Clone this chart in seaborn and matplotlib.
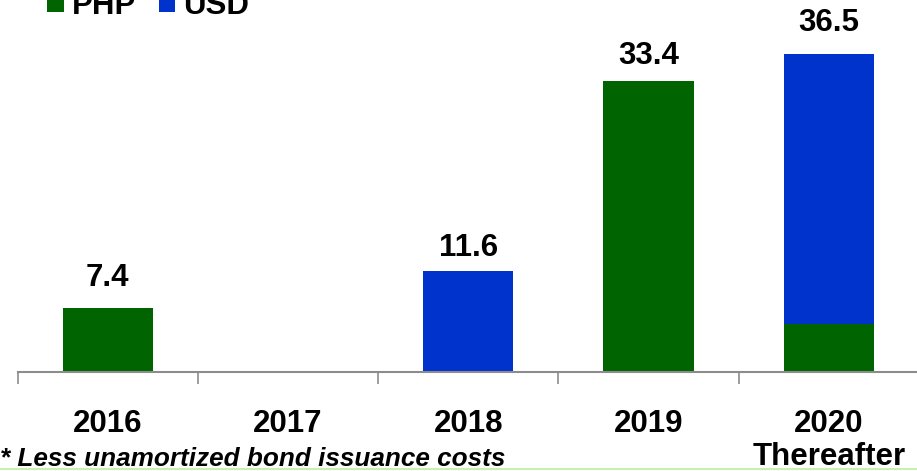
import matplotlib
matplotlib.use("Agg")
import matplotlib.pyplot as plt
from matplotlib.patches import Patch
from matplotlib.lines import Line2D
import numpy as np
import seaborn as sns

# Debt maturity profile (billions), split by currency
categories = ["2016", "2017", "2018", "2019", "2020\nThereafter"]
php = [7.4, 0.0, 0.0, 33.4, 5.5]
usd = [0.0, 0.0, 11.6, 0.0, 31.0]
series_names = ["PHP", "USD"]
footnote = "* Less unamortized bond issuance costs"

GREEN = "#006400"
BLUE = "#0033CC"
AXIS_GRAY = "#8c8c8c"
# gap (pixels) between each bar top and its total label
LABEL_GAP_PX = [22, 0, 15, 17, 23]

sns.set_style("white")
plt.rcParams["font.family"] = ["Liberation Sans", "DejaVu Sans"]
plt.rcParams["text.color"] = "black"
plt.rcParams["xtick.color"] = "black"

totals = [p + u for p, u in zip(php, usd)]

fig = plt.figure(figsize=(9.17, 4.71), dpi=100)
ax = fig.add_axes([17.5 / 917, 99 / 471, 901.5 / 917, 348.4 / 471])

# Stacked bars: full total in USD colour, PHP share painted over the base
sns.barplot(x=categories, y=totals, color=BLUE, saturation=1, width=0.5,
            linewidth=0, ax=ax)
sns.barplot(x=categories, y=php, color=GREEN, saturation=1, width=0.5,
            linewidth=0, ax=ax)

ax.set_xlim(-0.5, len(categories) - 0.5)
ax.set_ylim(0, 40)

# Total labels above each non-empty bar
for i, t in enumerate(totals):
    if t > 0:
        ax.annotate(f"{t:.1f}", xy=(i, t), xytext=(0, LABEL_GAP_PX[i] * 0.72),
                    textcoords="offset points", ha="center", va="baseline",
                    fontsize=22.5, fontweight="bold", color="black")

# Axis styling
for side in ["top", "right", "left"]:
    ax.spines[side].set_visible(False)
ax.spines["bottom"].set_color(AXIS_GRAY)
ax.spines["bottom"].set_linewidth(1.5)
ax.set_yticks([])
ax.set_xticks(range(len(categories)))
ax.set_xticklabels(categories, fontsize=22.5, fontweight="bold",
                   linespacing=1.12, color="black")
ax.tick_params(axis="x", which="major", length=0, pad=27)
ax.set_xticks(np.arange(-0.5, len(categories), 1.0), minor=True)
ax.tick_params(axis="x", which="minor", bottom=True, length=8.5, width=1.2,
               color=AXIS_GRAY, direction="out")
ax.set_xlabel("")
ax.set_ylabel("")

# Legend along the top edge
handles = [Patch(facecolor=GREEN, edgecolor="none"),
           Patch(facecolor=BLUE, edgecolor="none")]
fig.legend(handles, series_names, loc="center left",
           bbox_to_anchor=(47 / 917, 1.0 - 6 / 471),
           bbox_transform=fig.transFigure,
           ncol=2, frameon=False, borderpad=0, borderaxespad=0,
           handlelength=0.53, handleheight=0.53, handletextpad=0.26,
           columnspacing=0.72, prop={"size": 22.5, "weight": "bold"})

# Footnote
fig.text(0.0, 5.5 / 471, footnote, fontsize=18.8, fontweight="bold",
         fontstyle="italic", ha="left", va="baseline", color="black")

# Thin rule at the bottom of the page
fig.add_artist(Line2D([0, 1], [2 / 471, 2 / 471], transform=fig.transFigure,
                      color="#c8f0b4", linewidth=1.5))

fig.savefig("out.png", dpi=100)
